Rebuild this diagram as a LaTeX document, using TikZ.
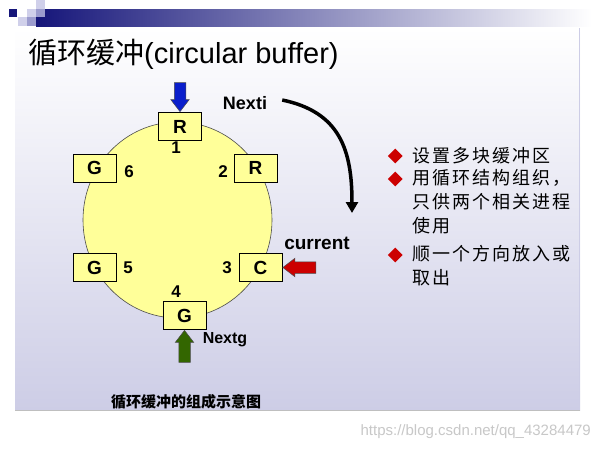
\documentclass[tikz,border=0pt]{standalone}
\usepackage{fontspec}
\setmainfont{Liberation Sans}
\newfontfamily\cjk{Noto Sans CJK SC}
\newfontfamily\cjknote[LetterSpace=11]{Noto Sans CJK SC}
\usetikzlibrary{positioning,shapes.geometric,shapes.arrows,arrows.meta}
\definecolor{navy}{HTML}{16167A}
\definecolor{lilac}{HTML}{CDCDE6}
\definecolor{lilacmid}{HTML}{9C9CCE}
\definecolor{lilaclight}{HTML}{D0D0EA}
\definecolor{bufyellow}{HTML}{FFFF99}
\definecolor{ptrblue}{HTML}{0A1ECC}
\definecolor{ptrred}{HTML}{CC0000}
\definecolor{ptrgreen}{HTML}{336600}
\definecolor{marknote}{HTML}{C8C8C8}
\tikzset{
  slot/.style={draw=black, fill=bufyellow, line width=0.9pt, minimum width=43pt, minimum height=28pt,
               inner sep=0pt, font=\bfseries\fontsize{19}{19}\selectfont},
  slotnum/.style={font=\bfseries\fontsize{17}{17}\selectfont, inner sep=0pt},
  ptrname/.style={font=\bfseries\fontsize{18}{18}\selectfont, inner sep=0pt},
  pointer/.style={single arrow, draw=black!70, line width=0.5pt, inner xsep=0pt, inner ysep=5.5pt,
                  single arrow head extend=3.5pt, single arrow head indent=0pt, single arrow tip angle=75,
                  minimum height=#1},
  pointer/.default=29pt,
  sweep/.style={line width=3.5pt, -{Triangle[width=12pt,length=11pt]}},
  bulletmark/.style={diamond, fill=ptrred, inner sep=0pt, minimum width=15pt, minimum height=15pt},
  item/.style={font=\cjknote\fontsize{18}{24}\selectfont, align=left, inner sep=0pt, anchor=north west,
               execute at begin node={\rule{0pt}{16pt}}},
}

\begin{document}
\begin{tikzpicture}[x=1pt, y=-1pt]
  \useasboundingbox (0,0) rectangle (600,450);
  \fill[white] (0,0) rectangle (600,450);
  % slide background and banner
  \fill[top color=white, bottom color=lilac] (15,28) rectangle (580,410);
  \draw[lilac, line width=1.2pt] (579.5,28) -- (579.5,410);
  \draw[black!25, line width=0.8pt] (15,410.5) -- (580,410.5);
  \shade[left color=navy, right color=white] (36,9) rectangle (592,26);
  \fill[navy] (9,9) rectangle (17,17);
  \fill[lilaclight] (27,9) rectangle (36,17);
  \fill[lilaclight] (36,0) rectangle (45,9);
  \fill[lilacmid] (36,9) rectangle (45,17);
  \fill[lilaclight] (18,17) rectangle (27,26);
  \fill[lilacmid] (27,17) rectangle (36,26);
  \node[anchor=west, inner sep=0pt, font=\fontsize{29}{29}\selectfont] (title) at (28,54) {{\cjk 循环缓冲}(circular buffer)};

  % ring of buffers
  \node[ellipse, draw=black!70, fill=bufyellow, line width=0.6pt, minimum width=189pt, minimum height=196pt, inner sep=0pt] (ring) at (177.5,220) {};
  \node[slot] (s1) at (180,126.5) {R};
  \node[slot] (s2) at (255.5,168) {R};
  \node[slot] (s3) at (260.5,267.5) {C};
  \node[slot] (s4) at (184.5,315.5) {G};
  \node[slot] (s5) at (94.5,267.5) {G};
  \node[slot] (s6) at (94.5,168) {G};
  \foreach \n/\x/\y in {1/176/148, 2/223/172, 3/227/268, 4/176/292, 5/128/268, 6/129/172}
    \node[slotnum] (n\n) at (\x,\y) {\n};

  % pointers
  \node[pointer=29pt, fill=ptrblue, rotate=-90, anchor=tip] (ptri) at (s1.north) {};
  \node[pointer=33pt, fill=ptrred, rotate=180, anchor=tip] (ptrc) at (s3.east) {};
  \node[pointer=32pt, fill=ptrgreen, rotate=90, anchor=tip] (ptrg) at (s4.south) {};
  \node[ptrname] (nexti) at (245,103) {Nexti};
  \node[ptrname, font=\bfseries\fontsize{19}{19}\selectfont] (current) at (317,243) {current};
  \node[ptrname, font=\bfseries\fontsize{16}{16}\selectfont] (nextg) at (225,340) {Nextg};
  \coordinate (turn) at (352,213);
  \draw[sweep] ([xshift=15pt,yshift=3pt]nexti.east) .. controls (340,112) and (352,150) .. (turn);

  % notes
  \node[item] (li1) at (412,146.5) {设置多块缓冲区};
  \node[item] (li2) at (412,169.5) {用循环结构组织，\\只供两个相关进程\\使用};
  \node[item] (li3) at (412,245.5) {顺一个方向放入或\\取出};
  \foreach \l in {li1,li2,li3}
    \node[bulletmark, left=9pt of \l.north west, yshift=-9.5pt] (m\l) {};

  \node[font=\cjk\bfseries\fontsize{15}{15}\selectfont] (caption) at (186,402) {循环缓冲的组成示意图};
  \node[anchor=east, inner sep=0pt, text=marknote, font=\fontsize{15}{15}\selectfont] (mark) at (591,432) {https://blog.csdn.net/qq\_43284479};
\end{tikzpicture}
\end{document}
